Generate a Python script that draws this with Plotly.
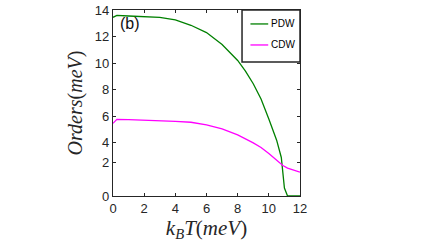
import plotly.graph_objects as go

# Temperature grid (meV) and order parameters (meV)
T_pdw = [0, 0.25, 1, 2, 3, 4, 5, 6, 7, 8, 8.5, 9, 9.5, 10, 10.5, 10.8, 11.0, 11.2, 12]
PDW   = [13.45, 13.6, 13.55, 13.5, 13.45, 13.25, 12.85, 12.3, 11.4, 10.2, 9.4, 8.45, 7.3, 5.8, 4.2, 2.9, 0.6, 0, 0]

T_cdw = [0, 0.25, 1, 2, 3, 4, 5, 6, 7, 8, 9, 9.5, 10, 10.5, 10.9, 11.2, 11.6, 12]
CDW   = [5.47, 5.77, 5.75, 5.72, 5.67, 5.62, 5.55, 5.35, 5.05, 4.6, 4.0, 3.65, 3.2, 2.7, 2.3, 2.1, 1.97, 1.8]

x_ticks = [0, 2, 4, 6, 8, 10, 12]
y_tickvals = [0, 2.5, 4, 6, 8, 10, 12, 14]
y_ticktext = ["0", "2", "4", "6", "8", "10", "12", "14"]

series_names = ["PDW", "CDW"]
series_colors = ["#008000", "#ff00ff"]

axc = "#262626"
fig = go.Figure()
fig.add_trace(go.Scatter(x=T_pdw, y=PDW, mode="lines", name=series_names[0],
                         line=dict(color=series_colors[0], width=1.3)))
fig.add_trace(go.Scatter(x=T_cdw, y=CDW, mode="lines", name=series_names[1],
                         line=dict(color=series_colors[1], width=1.3)))

axis_common = dict(showline=True, linecolor=axc, linewidth=1.3, mirror="ticks",
                   ticks="inside", ticklen=3, tickcolor=axc, tickwidth=1,
                   showgrid=False, zeroline=False, automargin=False,
                   tickfont=dict(family="Liberation Sans, Arial", size=13, color=axc))
fig.update_xaxes(range=[0, 12], tickvals=x_ticks, **axis_common,
                 title=dict(text="<i>k</i><sub><i>B</i></sub><i>T</i>(<i>meV</i>)",
                            font=dict(family="Liberation Serif, Times New Roman", size=21, color=axc),
                            standoff=2))
fig.update_yaxes(range=[0, 14], tickvals=y_tickvals, ticktext=y_ticktext, **axis_common,
                 title=dict(text="<i>Orders</i>(<i>meV</i>)",
                            font=dict(family="Liberation Serif, Times New Roman", size=20, color=axc),
                            standoff=6))

# legend box (drawn manually to match the compact MATLAB legend)
lx0, lx1, ly0, ly1 = 0.69, 1.0, 0.72, 1.0
fig.add_shape(type="rect", xref="paper", yref="paper", x0=lx0, x1=lx1, y0=ly0, y1=ly1,
              line=dict(color=axc, width=1.5), fillcolor="white", layer="above")
for i, (nm, col) in enumerate(zip(series_names, series_colors)):
    yy = 0.925 - i * 0.113
    fig.add_shape(type="line", xref="paper", yref="paper", x0=0.735, x1=0.83, y0=yy, y1=yy,
                  line=dict(color=col, width=1.3), layer="above")
    fig.add_annotation(xref="paper", yref="paper", x=0.835, y=yy, text=nm, showarrow=False,
                       xanchor="left", yanchor="middle",
                       font=dict(family="Liberation Sans, Arial", size=10, color="black"))

fig.add_annotation(xref="paper", yref="paper", x=0.025, y=0.985, text="(b)", showarrow=False,
                   xanchor="left", yanchor="top",
                   font=dict(family="Liberation Sans, Arial", size=16, color="#111111"))

fig.update_layout(width=443, height=248, margin=dict(l=113, r=143, t=10, b=52),
                  plot_bgcolor="white", paper_bgcolor="white", showlegend=False)
fig.write_html("out.html", config={"displayModeBar": False},
               post_script="document.body.style.margin='0';")
